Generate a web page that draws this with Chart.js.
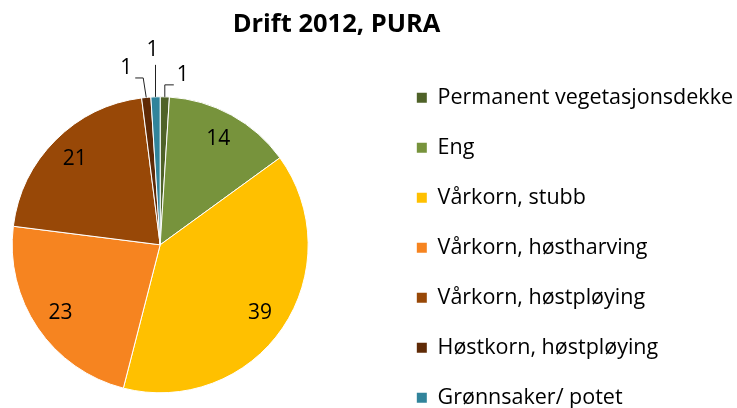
<!DOCTYPE html>
<html>
<head>
<meta charset="utf-8">
<script src="https://cdn.jsdelivr.net/npm/chart.js@4/dist/chart.umd.min.js"></script>
<style>
  html, body { margin: 0; padding: 0; background: #fff; }
  .chart-container { width: 737px; height: 408px; position: relative; }
</style>
</head>
<body>
<div class="chart-container"><canvas id="chart"></canvas></div>
<script>
// data
const categories = [
    'Permanent vegetasjonsdekke',
    'Eng',
    'Vårkorn, stubb',
    'Vårkorn, høstharving',
    'Vårkorn, høstpløying',
    'Høstkorn, høstpløying',
    'Grønnsaker/ potet'
];
const shares = [1, 14, 39, 23, 21, 1, 1];
const chartTitle = 'Drift 2012, PURA';

const sliceColors = ['#4f6228', '#77933c', '#ffc000', '#f68420', '#984807', '#5f2a06', '#31849b'];

/**
 * Leaves a gap between the pie and the legend and some room above the
 * pie for the outside labels, the way the spreadsheet lays it out.
 */
const pieFrame = {
    id: 'pieFrame',
    afterLayout(chart, args, opts) {
        const area = chart.chartArea;
        area.top += opts.top;
        area.right -= opts.right;
        area.width = area.right - area.left;
        area.height = area.bottom - area.top;
    }
};

/**
 * Writes the value of each slice. Big slices get the number inside,
 * the thin ones at the top get a number outside with a leader line.
 */
const sliceLabels = {
    id: 'sliceLabels',
    afterDatasetsDraw(chart, args, opts) {
        const ctx = chart.ctx;
        const meta = chart.getDatasetMeta(0);
        const values = chart.data.datasets[0].data;

        ctx.save();
        ctx.font = opts.font;
        ctx.fillStyle = opts.color;
        ctx.strokeStyle = opts.lineColor;
        ctx.lineWidth = 1;
        ctx.textBaseline = 'middle';

        meta.data.forEach((arc, i) => {
            const p = arc.getProps(['x', 'y', 'startAngle', 'endAngle', 'outerRadius'], true);
            const mid = (p.startAngle + p.endAngle) / 2;
            const text = String(values[i]);
            const leader = opts.leaders[i];

            if (!leader) {
                const r = p.outerRadius * opts.inset;
                ctx.textAlign = 'center';
                ctx.fillText(text, p.x + Math.cos(mid) * r, p.y + Math.sin(mid) * r);
                return;
            }

            const ex = p.x + Math.cos(mid) * p.outerRadius;
            const ey = p.y + Math.sin(mid) * p.outerRadius;
            ctx.beginPath();
            ctx.moveTo(ex, ey);
            ctx.lineTo(ex + leader.elbow[0], ey + leader.elbow[1]);
            ctx.lineTo(ex + leader.end[0], ey + leader.end[1]);
            ctx.stroke();
            ctx.textAlign = leader.align;
            ctx.fillText(text, ex + leader.text[0], ey + leader.text[1]);
        });
        ctx.restore();
    }
};

const chartConfig = {
    type: 'pie',
    data: {
        labels: categories,
        datasets: [
            {
                data: shares,
                backgroundColor: sliceColors,
                borderColor: '#ffffff',
                borderWidth: 1,
                radius: 148
            }
        ]
    },
    options: {
        responsive: true,
        maintainAspectRatio: false,
        animation: false,
        layout: {
            autoPadding: false,
            padding: { left: -70, right: -6, top: 0, bottom: -29 }
        },
        plugins: {
            title: {
                display: true,
                text: chartTitle,
                color: '#000',
                font: { family: 'Open Sans', size: 25.5, weight: 'bold', lineHeight: 1.2 },
                padding: { top: 9, bottom: 10 }
            },
            legend: {
                position: 'right',
                align: 'end',
                labels: {
                    boxWidth: 10,
                    boxHeight: 10,
                    padding: 28.5,
                    color: '#000',
                    font: { family: 'Open Sans', size: 21.5 },
                    generateLabels: (chart) =>
                        Chart.overrides.pie.plugins.legend.labels.generateLabels(chart)
                            .map(item => ({ ...item, lineWidth: 0 }))
                }
            },
            tooltip: { enabled: false },
            pieFrame: { top: 32, right: 68 },
            sliceLabels: {
                font: '21px "Open Sans"',
                color: '#000',
                lineColor: '#222',
                inset: 0.815,
                leaders: {
                    0: { elbow: [0, -12], end: [9, -12], text: [12, -21.5], align: 'left' },
                    5: { elbow: [-3, -19.5], end: [-11, -19.5], text: [-14, -29], align: 'right' },
                    6: { elbow: [0, -32], end: [0, -32], text: [-3, -46.5], align: 'center' }
                }
            }
        }
    },
    plugins: [pieFrame, sliceLabels]
};

new Chart(document.getElementById('chart'), chartConfig);
</script>
</body>
</html>
